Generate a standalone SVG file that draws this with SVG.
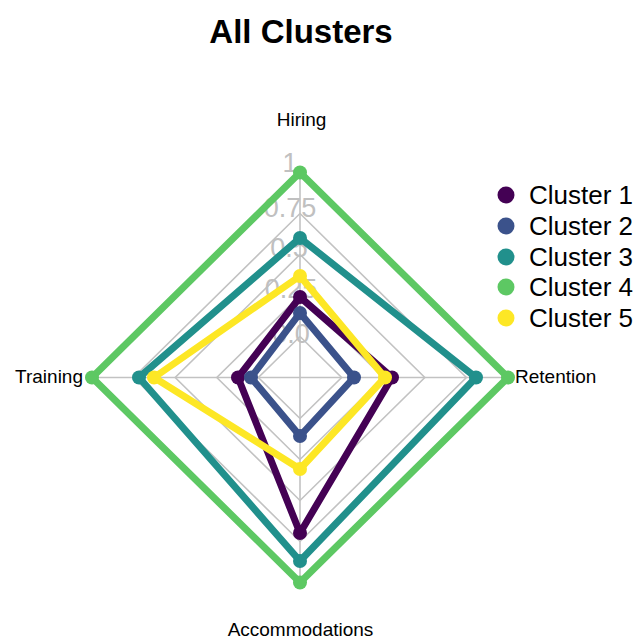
<svg xmlns="http://www.w3.org/2000/svg" width="636" height="639" viewBox="0 0 636 639">
<style>
.grid{fill:none;stroke:#c2c2c2;stroke-width:1.6}
.glab{font-family:"Liberation Sans",Arial,sans-serif;font-size:27px;fill:#c0c0c0;text-anchor:middle}
.axlab{font-family:"Liberation Sans",Arial,sans-serif;font-size:19px;fill:#000}
.leg{font-family:"Liberation Sans",Arial,sans-serif;font-size:26px;fill:#000}
.ln{fill:none;stroke-width:7;stroke-linejoin:round}
</style>
<rect width="636" height="639" fill="#fff"/>
<text x="301" y="43" font-family="Liberation Sans, Arial, sans-serif" font-size="33" font-weight="bold" text-anchor="middle" fill="#000">All Clusters</text>
<g id="grid">
<polygon class="grid" points="300,336.5 341.6,377.5 300,418.5 258.4,377.5"/>
<polygon class="grid" points="300,295.5 383.2,377.5 300,459.5 216.8,377.5"/>
<polygon class="grid" points="300,254.5 424.8,377.5 300,500.5 175.2,377.5"/>
<polygon class="grid" points="300,213.5 466.4,377.5 300,541.5 133.6,377.5"/>
<polygon class="grid" points="300,172.5 508,377.5 300,582.5 92,377.5"/>
<line class="grid" x1="300" y1="377.5" x2="300" y2="172.5"/>
<line class="grid" x1="300" y1="377.5" x2="508" y2="377.5"/>
<line class="grid" x1="300" y1="377.5" x2="300" y2="582.5"/>
<line class="grid" x1="300" y1="377.5" x2="92" y2="377.5"/>
<text class="glab" x="290" y="172">1</text>
<text class="glab" x="290" y="217">0.75</text>
<text class="glab" x="289" y="257">0.5</text>
<text class="glab" x="291" y="298">0.25</text>
<text class="glab" x="291" y="343">0.0</text>
</g>
<g id="axis-labels">
<text class="axlab" x="301.5" y="126" text-anchor="middle">Hiring</text>
<text class="axlab" x="515" y="383">Retention</text>
<text class="axlab" x="300.5" y="636" text-anchor="middle">Accommodations</text>
<text class="axlab" x="83" y="383" text-anchor="end">Training</text>
</g>
<g id="connectors">
<polygon class="ln" stroke="#440154" points="300,297 392,377.5 300,533 238,377.5"/>
<polygon class="ln" stroke="#3B528B" points="300,313 354,377.5 300,436 251,377.5"/>
<polygon class="ln" stroke="#21908C" points="300,238 476,377.5 300,561 139,377.5"/>
<polygon class="ln" stroke="#5DC863" points="300,172.5 508,377.5 300,582.5 92,377.5"/>
<polygon class="ln" stroke="#FDE725" points="300,276 385,377.5 300,469 154,377.5"/>
</g>
<g id="cluster1" fill="#440154">
<circle cx="300" cy="297" r="7"/><circle cx="392" cy="377.5" r="7"/><circle cx="300" cy="533" r="7"/><circle cx="238" cy="377.5" r="7"/>
</g>
<g id="cluster2" fill="#3B528B">
<circle cx="300" cy="313" r="7"/><circle cx="354" cy="377.5" r="7"/><circle cx="300" cy="436" r="7"/><circle cx="251" cy="377.5" r="7"/>
</g>
<g id="cluster3" fill="#21908C">
<circle cx="300" cy="238" r="7"/><circle cx="476" cy="377.5" r="7"/><circle cx="300" cy="561" r="7"/><circle cx="139" cy="377.5" r="7"/>
</g>
<g id="cluster4" fill="#5DC863">
<circle cx="300" cy="172.5" r="7"/><circle cx="508" cy="377.5" r="7"/><circle cx="300" cy="582.5" r="7"/><circle cx="92" cy="377.5" r="7"/>
</g>
<g id="cluster5" fill="#FDE725">
<circle cx="300" cy="276" r="7"/><circle cx="385" cy="377.5" r="7"/><circle cx="300" cy="469" r="7"/><circle cx="154" cy="377.5" r="7"/>
</g>
<g id="legend">
<circle cx="506" cy="195" r="8.5" fill="#440154"/><text class="leg" x="529" y="204">Cluster 1</text>
<circle cx="506" cy="226" r="8.5" fill="#3B528B"/><text class="leg" x="529" y="235">Cluster 2</text>
<circle cx="506" cy="257" r="8.5" fill="#21908C"/><text class="leg" x="529" y="266">Cluster 3</text>
<circle cx="506" cy="287" r="8.5" fill="#5DC863"/><text class="leg" x="529" y="296">Cluster 4</text>
<circle cx="506" cy="318" r="8.5" fill="#FDE725"/><text class="leg" x="529" y="327">Cluster 5</text>
</g>
</svg>
